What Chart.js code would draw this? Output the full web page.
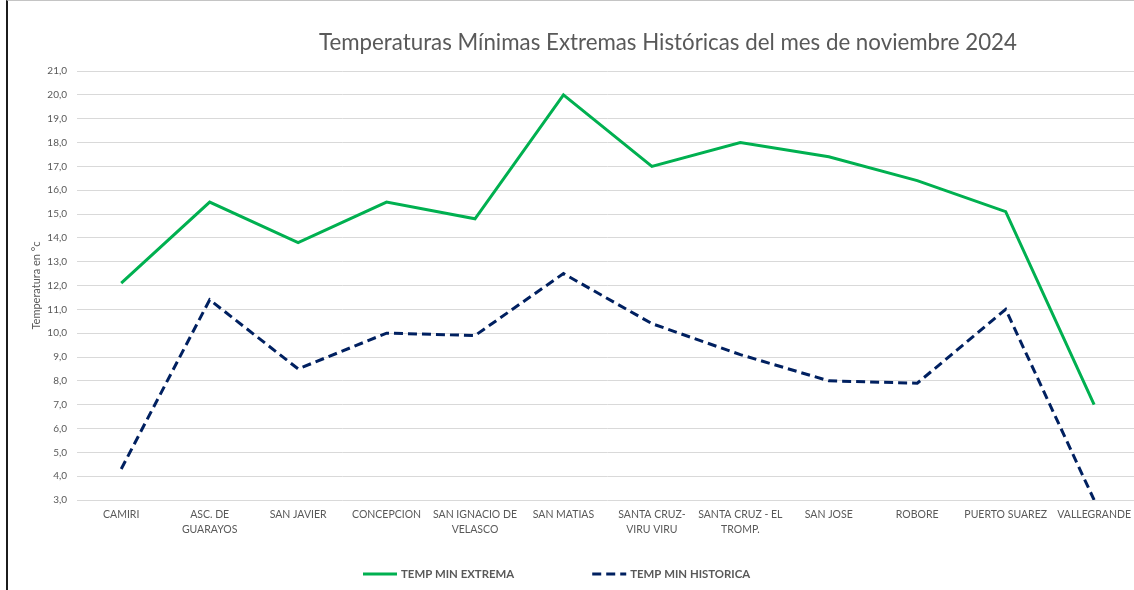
<!DOCTYPE html>
<html>
<head>
<meta charset="utf-8">
<title>Temperaturas Mínimas Extremas Históricas - noviembre 2024</title>
<script src="https://cdn.jsdelivr.net/npm/chart.js@4.4.1/dist/chart.umd.min.js"></script>
<style>
  html, body { margin: 0; padding: 0; background: #fff; overflow: hidden; }
  /* partial Excel chart frame: dark left edge, light top edge */
  #frame { position: absolute; left: 6px; top: 0; width: 1140px; height: 589px;
           border-left: 2px solid #1c1c1c; border-top: 1px solid #c4c4c4; }
  #wrap  { position: relative; width: 1131px; height: 589px; }
</style>
</head>
<body>
<div id="frame"><div id="wrap"><canvas id="chart"></canvas></div></div>
<script>
// ── Data ─────────────────────────────────────────────
const stations = [
  'CAMIRI', ['ASC. DE', 'GUARAYOS'], 'SAN JAVIER', 'CONCEPCION', ['SAN IGNACIO DE', 'VELASCO'],
  'SAN MATIAS', ['SANTA CRUZ-', 'VIRU VIRU'], ['SANTA CRUZ - EL', 'TROMP.'], 'SAN JOSE',
  'ROBORE', 'PUERTO SUAREZ', 'VALLEGRANDE',
];
const tempMinExtrema   = [12.1, 15.5, 13.8, 15.5, 14.8, 20.0, 17.0, 18.0, 17.4, 16.4, 15.1, 7.0];
const tempMinHistorica = [4.3, 11.4, 8.5, 10.0, 9.9, 12.5, 10.4, 9.1, 8.0, 7.9, 11.0, 3.0];
const yMin = 3, yMax = 21, yStep = 1;

const chartTitle = 'Temperaturas Mínimas Extremas Históricas del mes de noviembre 2024';
const yTitle = 'Temperatura en °c';

// ── Style ────────────────────────────────────────────
const FF = 'Lato, "Open Sans", sans-serif';
const GREY = '#595959';

// title + legend drawn where Excel put them (not centred on the canvas)
const excelDecor = {
  id: 'excelDecor',
  afterDraw(chart, args, o) {
    const ctx = chart.ctx;
    ctx.save();
    ctx.fillStyle = GREY;
    ctx.textBaseline = 'middle';

    ctx.font = o.titleFont;
    ctx.textAlign = 'center';
    ctx.fillText(o.title, o.titleX, o.titleY);

    ctx.font = o.legendFont;
    ctx.textAlign = 'left';
    let x = o.legendX;
    chart.data.datasets.forEach(ds => {
      ctx.strokeStyle = ds.borderColor;
      ctx.lineWidth = ds.borderWidth;
      ctx.setLineDash(ds.borderDash || []);
      ctx.beginPath();
      ctx.moveTo(x, o.legendY);
      ctx.lineTo(x + o.lineLen, o.legendY);
      ctx.stroke();
      ctx.setLineDash([]);
      ctx.fillText(ds.label, x + o.lineLen + o.textGap, o.legendY + 0.5);
      x += o.lineLen + o.textGap + ctx.measureText(ds.label).width + o.itemGap;
    });
    ctx.restore();
  },
};

new Chart(document.getElementById('chart'), {
  type: 'line',
  plugins: [excelDecor],
  data: {
    labels: stations,
    datasets: [
      { label: 'TEMP MIN EXTREMA',  data: tempMinExtrema,   borderColor: '#00b050', backgroundColor: '#00b050',
        borderWidth: 3, pointRadius: 0, tension: 0 },
      { label: 'TEMP MIN HISTORICA', data: tempMinHistorica, borderColor: '#002060', backgroundColor: '#002060',
        borderWidth: 3, borderDash: [9, 5], pointRadius: 0, tension: 0 },
    ],
  },
  options: {
    responsive: true, maintainAspectRatio: false, animation: false,
    layout: { padding: { top: 70, left: 0, right: 0, bottom: 0 } },
    plugins: {
      legend: { display: false },
      tooltip: { enabled: false },
      title: { display: false },
      excelDecor: {
        title: chartTitle, titleFont: `22.3px ${FF}`, titleX: 660, titleY: 42,
        legendFont: `bold 11.4px ${FF}`, legendX: 355, legendY: 573,
        lineLen: 34, textGap: 4, itemGap: 78,
      },
    },
    scales: {
      x: {
        offset: true,
        grid: { display: false, drawTicks: false },
        border: { display: false },
        ticks: { color: GREY, font: { family: FF, size: 10.5, lineHeight: 1.35 }, padding: 8, maxRotation: 0, autoSkip: false },
        afterFit: s => { s.height = 90; },
      },
      y: {
        min: yMin, max: yMax,
        grid: { color: '#d9d9d9', lineWidth: 1, drawTicks: false },
        border: { display: false },
        ticks: { stepSize: yStep, color: GREY, padding: 10, font: { family: FF, size: 10 },
                 callback: v => v.toFixed(1).replace('.', ',') },
        title: { display: true, text: yTitle, color: GREY, font: { family: FF, size: 11 }, padding: { top: 22, bottom: 0 } },
        afterFit: s => { s.width = 69; },
      },
    },
  },
});
</script>
</body>
</html>
